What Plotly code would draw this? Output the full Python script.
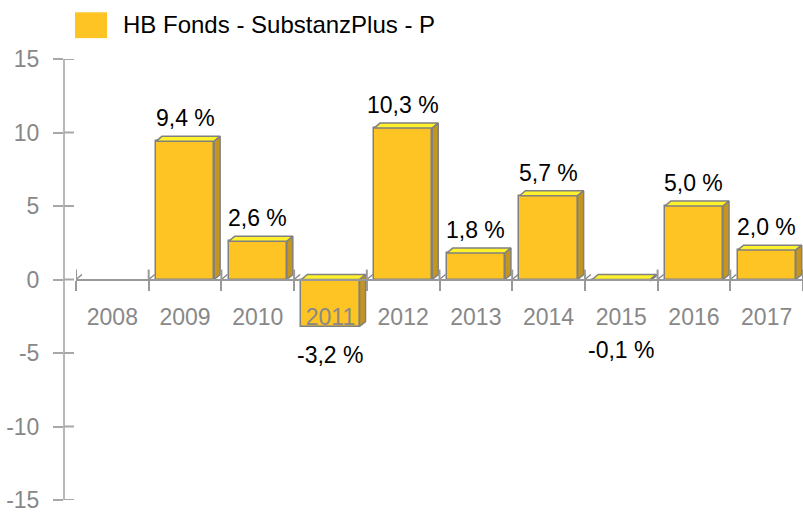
import plotly.graph_objects as go

years = ["2008", "2009", "2010", "2011", "2012", "2013", "2014", "2015", "2016", "2017"]
values = [None, 9.4, 2.6, -3.2, 10.3, 1.8, 5.7, -0.1, 5.0, 2.0]
labels = [None, "9,4 %", "2,6 %", "-3,2 %", "10,3 %", "1,8 %", "5,7 %", "-0,1 %", "5,0 %", "2,0 %"]
series_name = "HB Fonds - SubstanzPlus - P"
y_ticks = [-15, -10, -5, 0, 5, 10, 15]
y_ticktext = ["-15", "-10", "-5", "0", "5", "10", "15"]

FRONT = "#FEC423"
TOP = "#FFF22C"
SIDE = "#C4961E"
EDGE = "#808080"
AXIS = "#A8A8A8"
XAX = "#999999"
TXT = "#888888"
FONT = "Liberation Sans, Arial, sans-serif"
FS = 23

W, H = 803, 513
ML, MR, MT, MB = 64, 0, 59, 10
plot_w = W - ML - MR
plot_h = H - MT - MB
x_off_px = 12
cat_px = (plot_w - x_off_px) / len(years)
unit_px = plot_h / 30.0
TICK = 10

bw = 0.8
dx = 6 / cat_px
dy = 5 / unit_px

xs = list(range(len(years)))
fig = go.Figure()

fig.add_trace(go.Bar(
    x=[i for i, v in zip(xs, values) if v is not None],
    y=[v for v in values if v is not None],
    width=bw,
    marker=dict(color=FRONT, line=dict(color=EDGE, width=1.5)),
    showlegend=False, hoverinfo="skip",
))

# 3D faces derived from values
for i, v in zip(xs, values):
    if v is None:
        continue
    top = max(v, 0)
    bot = min(v, 0)
    l, r = i - bw / 2, i + bw / 2
    fig.add_trace(go.Scatter(
        x=[l, r, r + dx, l + dx, l], y=[top, top, top + dy, top + dy, top],
        fill="toself", fillcolor=TOP, mode="lines",
        line=dict(color=EDGE, width=1.5), showlegend=False, hoverinfo="skip"))
    fig.add_trace(go.Scatter(
        x=[r, r + dx, r + dx, r, r], y=[top, top + dy, bot + dy, bot, top],
        fill="toself", fillcolor=SIDE, mode="lines",
        line=dict(color=EDGE, width=1.5), showlegend=False, hoverinfo="skip"))

bounds = [b - 0.5 for b in range(len(years) + 1)]

# floor slashes at category boundaries
sx, sy = [], []
for b in bounds:
    sx += [b, b + dx, None]
    sy += [0, dy, None]
fig.add_trace(go.Scatter(x=sx, y=sy, mode="lines", line=dict(color=EDGE, width=1.2),
                         showlegend=False, hoverinfo="skip"))

annotations = []
for i, v, t in zip(xs, values, labels):
    if v is None:
        continue
    if v >= 0:
        annotations.append(dict(x=i, y=v, xref="x", yref="y", text=t, showarrow=False,
                                yanchor="bottom", yshift=8,
                                font=dict(size=FS, color="#000000", family=FONT)))
    else:
        annotations.append(dict(x=i, y=min(v, -2.9), xref="x", yref="y", text=t, showarrow=False,
                                yanchor="top", yshift=-13,
                                font=dict(size=FS, color="#000000", family=FONT)))

# legend
px2x = lambda p: (p - ML) / plot_w
px2y = lambda p: 1 + (MT - p) / plot_h
annotations.append(dict(x=px2x(121), y=px2y(24), xref="paper", yref="paper", text=series_name,
                        showarrow=False, xanchor="left", yanchor="middle",
                        font=dict(size=24, color="#000000", family=FONT)))
shapes = [dict(type="rect", xref="paper", yref="paper", x0=px2x(75), x1=px2x(107),
               y0=px2y(38), y1=px2y(12), fillcolor=FRONT, line=dict(width=0))]

# inner halves of the crossing tick marks
for t in y_ticks:
    shapes.append(dict(type="line", xref="paper", yref="y", x0=0, x1=TICK / plot_w, y0=t, y1=t,
                       line=dict(color=AXIS, width=2), layer="above"))
for b in bounds:
    shapes.append(dict(type="line", xref="x", yref="paper", x0=b, x1=b, y0=0.5,
                       y1=0.5 + TICK / plot_h, line=dict(color=XAX, width=2), layer="above"))

xdom = [x_off_px / plot_w, 1]
xr = [-0.5, len(years) - 0.5]
fig.update_layout(
    width=W, height=H, autosize=False,
    margin=dict(l=ML, r=MR, t=MT, b=MB),
    plot_bgcolor="white", paper_bgcolor="white",
    showlegend=False, bargap=0,
    annotations=annotations, shapes=shapes,
    font=dict(family=FONT),
    xaxis=dict(domain=xdom, range=xr, anchor="free", position=0.5,
               showline=True, linecolor=XAX, linewidth=2,
               tickvals=xs, ticktext=years, ticks="", ticklabelstandoff=17,
               tickfont=dict(size=FS, color=TXT, family=FONT),
               showgrid=False, zeroline=False),
    xaxis2=dict(overlaying="x", domain=xdom, range=xr, anchor="free", position=0.5,
                tickvals=bounds, ticks="outside", ticklen=TICK,
                tickwidth=2, tickcolor=XAX, showticklabels=False, showline=False,
                showgrid=False, zeroline=False),
    yaxis=dict(range=[-15, 15], anchor="free", position=0, tickvals=y_ticks, ticktext=y_ticktext,
               ticks="outside", ticklen=TICK, tickwidth=2, tickcolor=AXIS,
               showline=True, linecolor="#B8B8B8", linewidth=2, ticklabeloverflow="allow",
               ticklabelstandoff=9, tickfont=dict(size=FS, color=TXT, family=FONT),
               showgrid=False, zeroline=False),
)
fig.add_trace(go.Scatter(x=[None], y=[None], xaxis="x2", yaxis="y", mode="markers",
                         showlegend=False, hoverinfo="skip"))

fig.write_html("out.html")
